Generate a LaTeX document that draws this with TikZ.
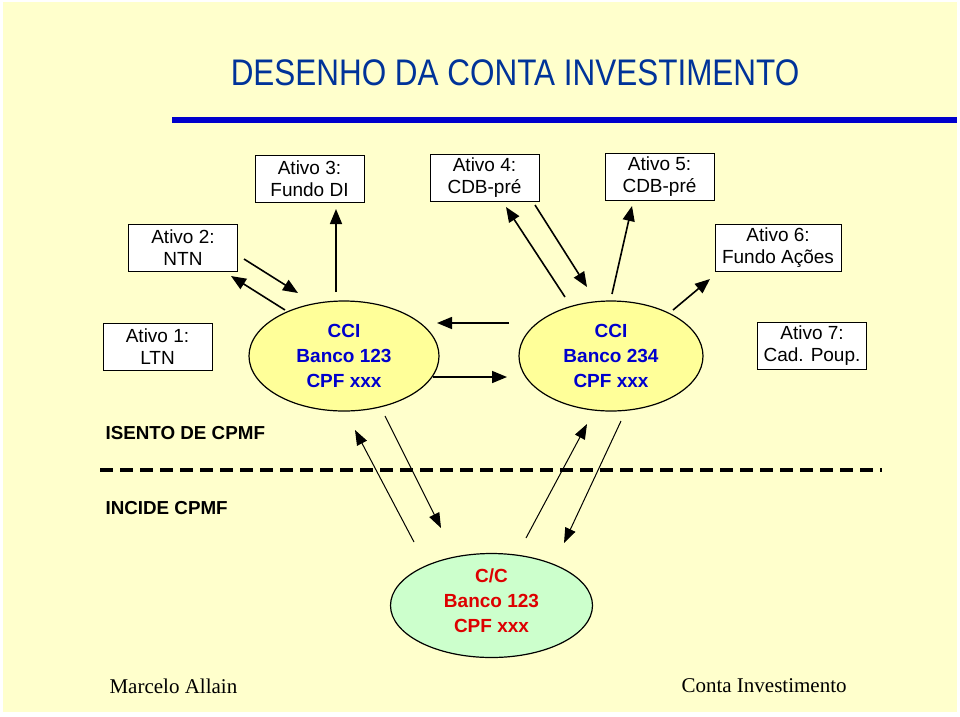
\documentclass[tikz,border=0pt]{standalone}
\usepackage{fontspec}
\setmainfont{Liberation Sans}
\newfontfamily\titlefont[FakeStretch=0.85]{Liberation Sans}
\newfontfamily\footfont{Liberation Serif}
\usetikzlibrary{arrows.meta,shapes.geometric}
\definecolor{paper}{RGB}{255,255,204}
\definecolor{titleblue}{RGB}{0,51,153}
\definecolor{lineblue}{RGB}{0,0,204}
\definecolor{ccifill}{RGB}{255,255,153}
\definecolor{ccitext}{RGB}{0,0,204}
\definecolor{ccfill}{RGB}{204,255,204}
\definecolor{cctext}{RGB}{221,0,0}

\begin{document}
\begin{tikzpicture}[x=1pt,y=-1pt]
\tikzstyle{ativo}=[draw,fill=white,line width=1pt,minimum width=109pt,minimum height=47pt,inner sep=2pt,align=center,font=\fontsize{19}{22}\selectfont]
\tikzstyle{conta}=[ellipse,draw,line width=1.2pt,inner sep=0pt,align=center,font=\fontsize{19}{25}\bfseries\selectfont]
\tikzstyle{seta}=[line width=1.6pt,-{Triangle[length=15pt,width=12pt]}]
\tikzstyle{setafina}=[line width=1pt,-{Triangle[length=15pt,width=11pt]}]
\tikzstyle{faixa}=[anchor=west,font=\fontsize{18.8}{20}\bfseries\selectfont]
\useasboundingbox (0,0) rectangle (960,716);
\fill [paper] (3,2) rectangle (957,712);
% title
\node [text=titleblue,font=\titlefont\fontsize{37}{40}\selectfont] (titulo) at (515,73) {DESENHO DA CONTA INVESTIMENTO};
\coordinate (lin1) at (172,120);
\coordinate (lin2) at (957,120);
\draw [lineblue,line width=6pt] (lin1) -- (lin2);
% assets
\node [ativo] (a1) at (157.5,346.5) {Ativo 1:\\LTN};
\node [ativo] (a2) at (183,247.5) {Ativo 2:\\NTN};
\node [ativo] (a3) at (309.5,178.5) {Ativo 3:\\Fundo DI};
\node [ativo] (a4) at (484.5,177.5) {Ativo 4:\\CDB-pré};
\node [ativo] (a5) at (659.5,176.5) {Ativo 5:\\CDB-pré};
\node [ativo,minimum width=126pt] (a6) at (778,247.5) {Ativo 6:\\Fundo Ações};
\node [ativo] (a7) at (812,346) {Ativo 7:\\Cad. Poup.};
% accounts
\node [conta,fill=ccifill,text=ccitext,minimum width=190pt,minimum height=110pt] (cci1) at (344,356) {CCI\\Banco 123\\CPF xxx};
\node [conta,fill=ccifill,text=ccitext,minimum width=184pt,minimum height=110pt] (cci2) at (611,356) {CCI\\Banco 234\\CPF xxx};
\node [conta,fill=ccfill,minimum width=202pt,minimum height=104pt] (cc) at (491.5,605.5) {};
\node [align=center,text=cctext,font=\fontsize{19}{25}\bfseries\selectfont,yshift=5pt] (cctxt) at (cc.center) {C/C\\Banco 123\\CPF xxx};
% arrow ends
\coordinate (e1) at (244,259); \coordinate (e2) at (298,293);
\coordinate (f1) at (285,310); \coordinate (f2) at (231,276);
\coordinate (g1) at (336,292); \coordinate (g2) at (336,209);
\coordinate (h1) at (565,297); \coordinate (h2) at (506,207);
\coordinate (i1) at (535,205); \coordinate (i2) at (587,287);
\coordinate (j1) at (612,294); \coordinate (j2) at (632,206);
\coordinate (k1) at (673,310); \coordinate (k2) at (710,279);
\coordinate (m1) at (509,323); \coordinate (m2) at (437,323);
\coordinate (n1) at (433,377); \coordinate (n2) at (507,377);
\coordinate (p1) at (414,542); \coordinate (p2) at (355,430);
\coordinate (q1) at (385,416); \coordinate (q2) at (441,528);
\coordinate (r1) at (526,538); \coordinate (r2) at (587,424);
\coordinate (s1) at (621,421); \coordinate (s2) at (564,543);
\draw [seta] (e1) -- (e2);
\draw [seta] (f1) -- (f2);
\draw [seta] (g1) -- (g2);
\draw [seta] (h1) -- (h2);
\draw [seta] (i1) -- (i2);
\draw [seta] (j1) -- (j2);
\draw [seta] (k1) -- (k2);
\draw [seta] (m1) -- (m2);
\draw [seta] (n1) -- (n2);
\draw [setafina] (p1) -- (p2);
\draw [setafina] (q1) -- (q2);
\draw [setafina] (r1) -- (r2);
\draw [setafina] (s1) -- (s2);
% CPMF border
\node [faixa] (isento) at (102,433) {ISENTO DE CPMF};
\node [faixa] (incide) at (102,508) {INCIDE CPMF};
\coordinate (tr1) at (100,470);
\coordinate (tr2) at (882,470);
\draw [line width=4pt,dash pattern=on 13pt off 7pt] (tr1) -- (tr2);
% footer
\node [anchor=west,font=\footfont\fontsize{21}{24}\selectfont] (autor) at (106,686) {Marcelo Allain};
\node [anchor=west,font=\footfont\fontsize{21}{24}\selectfont] (rodape) at (678,686) {Conta Investimento};
\end{tikzpicture}
\end{document}
